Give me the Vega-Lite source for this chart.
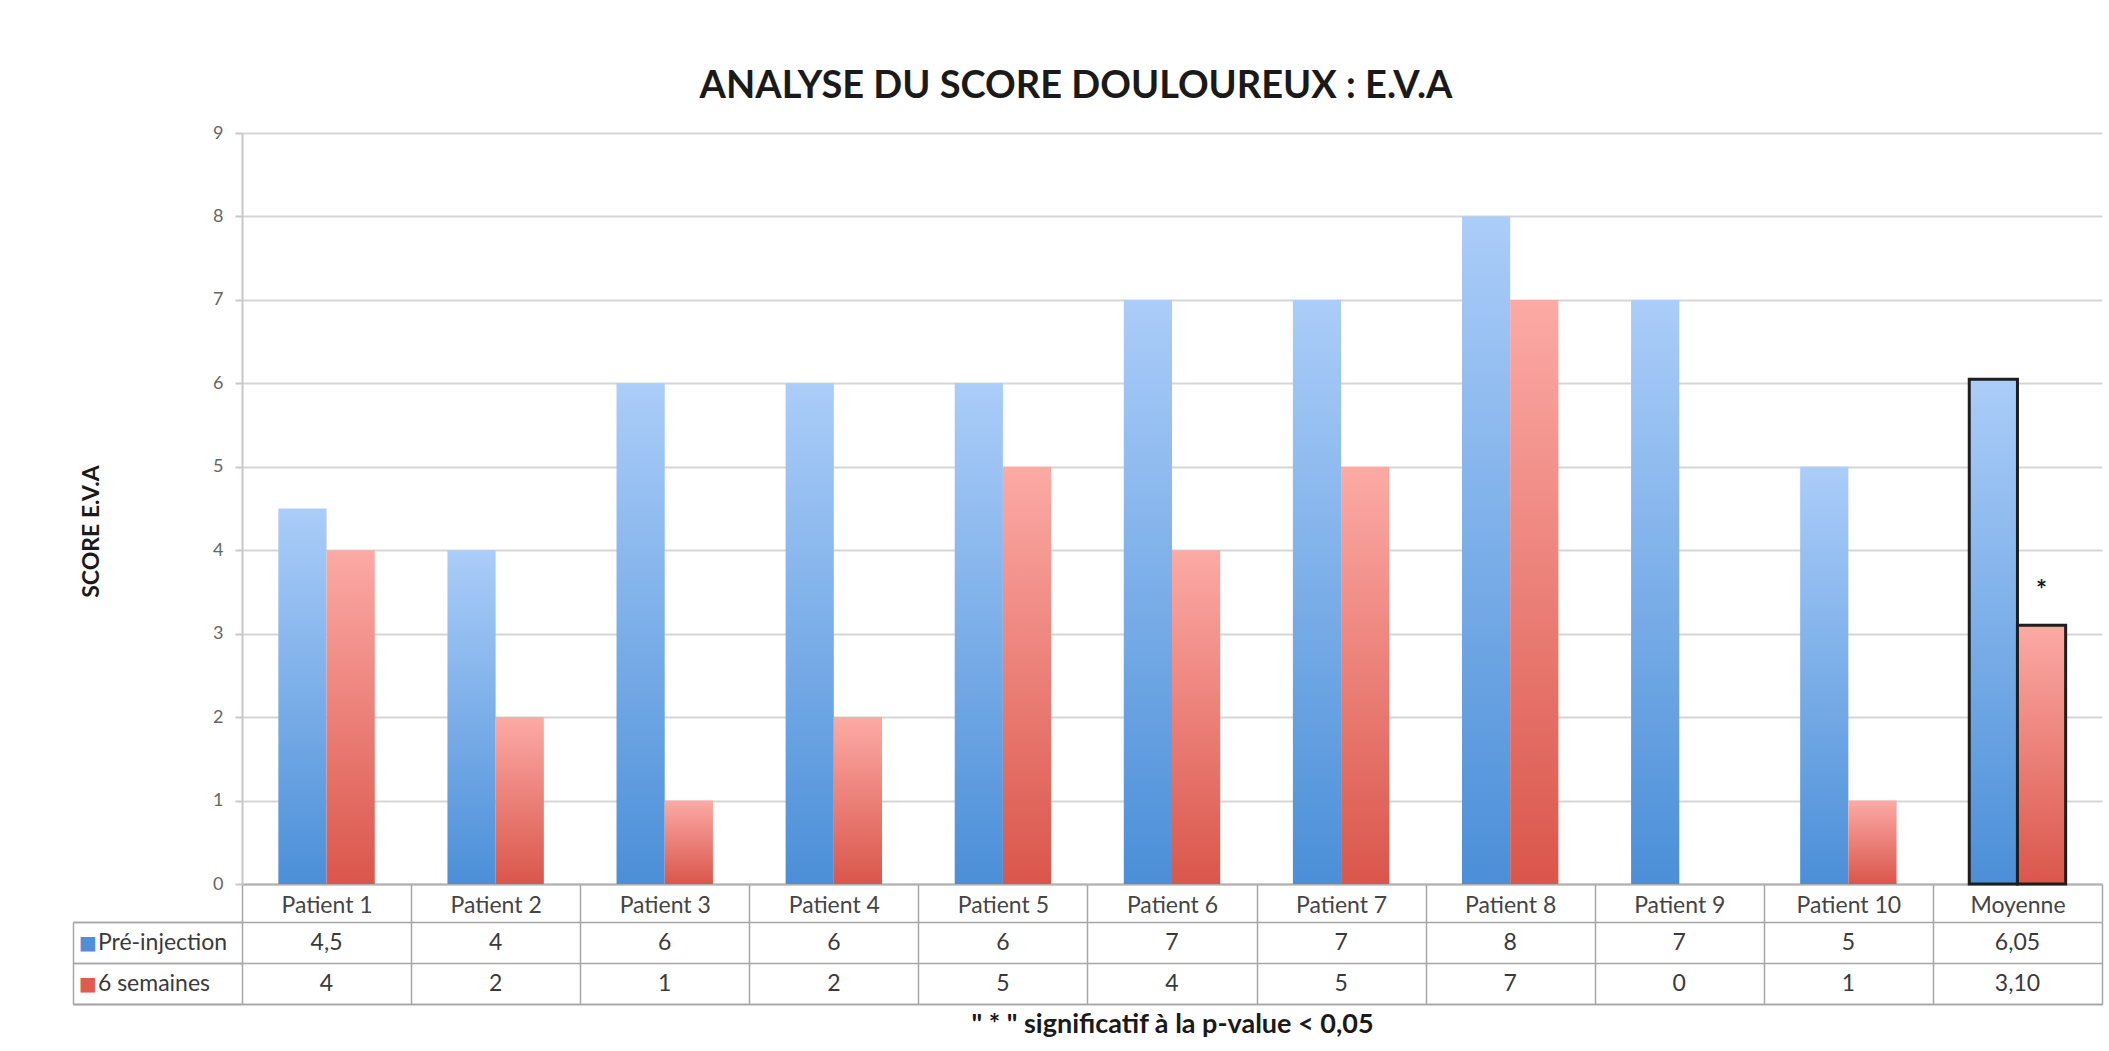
{
  "$schema": "https://vega.github.io/schema/vega-lite/v6.json",
  "width": 1860,
  "height": 871,
  "autosize": {"type": "none"},
  "padding": {"left": 242, "top": 133, "right": 7, "bottom": 47},
  "background": "white",
  "config": {"view": {"stroke": null}, "font": "Lato"},
  "title": {
    "text": "ANALYSE DU SCORE DOULOUREUX : E.V.A",
    "font": "Lato",
    "fontSize": 38,
    "fontWeight": "bold",
    "color": "#1a1a1a",
    "anchor": "middle",
    "frame": "group",
    "baseline": "alphabetic",
    "dx": -96,
    "offset": -12
  },
  "datasets": {
    "scores": [
      {"category": "Patient 1", "series": "Pré-injection", "value": 4.5, "display": "4,5"},
      {"category": "Patient 1", "series": "6 semaines", "value": 4, "display": "4"},
      {"category": "Patient 2", "series": "Pré-injection", "value": 4, "display": "4"},
      {"category": "Patient 2", "series": "6 semaines", "value": 2, "display": "2"},
      {"category": "Patient 3", "series": "Pré-injection", "value": 6, "display": "6"},
      {"category": "Patient 3", "series": "6 semaines", "value": 1, "display": "1"},
      {"category": "Patient 4", "series": "Pré-injection", "value": 6, "display": "6"},
      {"category": "Patient 4", "series": "6 semaines", "value": 2, "display": "2"},
      {"category": "Patient 5", "series": "Pré-injection", "value": 6, "display": "6"},
      {"category": "Patient 5", "series": "6 semaines", "value": 5, "display": "5"},
      {"category": "Patient 6", "series": "Pré-injection", "value": 7, "display": "7"},
      {"category": "Patient 6", "series": "6 semaines", "value": 4, "display": "4"},
      {"category": "Patient 7", "series": "Pré-injection", "value": 7, "display": "7"},
      {"category": "Patient 7", "series": "6 semaines", "value": 5, "display": "5"},
      {"category": "Patient 8", "series": "Pré-injection", "value": 8, "display": "8"},
      {"category": "Patient 8", "series": "6 semaines", "value": 7, "display": "7"},
      {"category": "Patient 9", "series": "Pré-injection", "value": 7, "display": "7"},
      {"category": "Patient 9", "series": "6 semaines", "value": 0, "display": "0"},
      {"category": "Patient 10", "series": "Pré-injection", "value": 5, "display": "5"},
      {"category": "Patient 10", "series": "6 semaines", "value": 1, "display": "1"},
      {"category": "Moyenne", "series": "Pré-injection", "value": 6.05, "display": "6,05"},
      {"category": "Moyenne", "series": "6 semaines", "value": 3.10, "display": "3,10", "note": "*"}
    ],
    "rows": [
      {"category": "header", "series": "Pré-injection"},
      {"category": "header", "series": "6 semaines"}
    ]
  },
  "layer": [
    {
      "data": {"name": "scores"},
      "encoding": {
        "x": {
          "field": "category",
          "type": "nominal",
          "sort": null,
          "scale": {"paddingInner": 0, "paddingOuter": 0},
          "axis": {
            "orient": "bottom",
            "offset": -120,
            "tickBand": "extent",
            "ticks": true,
            "tickSize": 38,
            "tickColor": "#a6a6a6",
            "tickWidth": 1.5,
            "domain": true,
            "domainColor": "#b0b0b0",
            "domainWidth": 2,
            "grid": false,
            "labelAngle": 0,
            "labelFontSize": 23,
            "labelColor": "#454545",
            "labelPadding": -17,
            "labelBaseline": "middle",
            "labelOverlap": false,
            "labelLimit": 400,
            "title": "\" * \" significatif à la p-value < 0,05",
            "titleFontSize": 27,
            "titleFontWeight": "bold",
            "titleColor": "#1a1a1a",
            "titlePadding": 89
          }
        },
        "xOffset": {
          "field": "series",
          "type": "nominal",
          "scale": {"domain": ["Pré-injection", "6 semaines"], "paddingInner": 0, "paddingOuter": 0.754}
        },
        "y": {
          "field": "value",
          "type": "quantitative",
          "scale": {"domain": [0, 9], "range": [751, 0], "nice": false, "zero": true},
          "axis": {
            "orient": "left",
            "values": [0, 1, 2, 3, 4, 5, 6, 7, 8, 9],
            "grid": true,
            "gridColor": "#d6d6d6",
            "gridWidth": 2,
            "domain": true,
            "domainColor": "#c8c8c8",
            "domainWidth": 2,
            "ticks": true,
            "tickSize": 7,
            "tickColor": "#c8c8c8",
            "tickWidth": 2,
            "labelFontSize": 18,
            "labelColor": "#666666",
            "labelPadding": 12,
            "title": "SCORE E.V.A",
            "titleFontSize": 23,
            "titleFontWeight": "bold",
            "titleColor": "#1a1a1a",
            "titlePadding": 109,
            "titleY": 398
          }
        }
      },
      "layer": [
        {
          "transform": [{"filter": "datum.series === 'Pré-injection'"}],
          "mark": {
            "type": "bar",
            "strokeWidth": 3,
            "fill": {
              "gradient": "linear", "x1": 0, "y1": 0, "x2": 0, "y2": 1,
              "stops": [{"offset": 0, "color": "#abcdf9"}, {"offset": 1, "color": "#4b8fd8"}]
            }
          },
          "encoding": {
            "stroke": {"condition": {"test": "datum.category === 'Moyenne'", "value": "#1e1e1e"}, "value": "transparent"}
          }
        },
        {
          "transform": [{"filter": "datum.series === '6 semaines'"}],
          "mark": {
            "type": "bar",
            "strokeWidth": 3,
            "fill": {
              "gradient": "linear", "x1": 0, "y1": 0, "x2": 0, "y2": 1,
              "stops": [{"offset": 0, "color": "#fcaaa5"}, {"offset": 1, "color": "#da564b"}]
            }
          },
          "encoding": {
            "stroke": {"condition": {"test": "datum.category === 'Moyenne'", "value": "#1e1e1e"}, "value": "transparent"}
          }
        },
        {
          "transform": [{"filter": "datum.note"}],
          "mark": {"type": "text", "fontSize": 26, "fontWeight": "bold", "color": "#1a1a1a", "baseline": "alphabetic", "dy": -26},
          "encoding": {"text": {"field": "note"}}
        }
      ]
    },
    {
      "encoding": {
        "x": {
          "field": "category",
          "type": "nominal",
          "scale": {
            "domain": ["header", "Patient 1", "Patient 2", "Patient 3", "Patient 4", "Patient 5", "Patient 6", "Patient 7", "Patient 8", "Patient 9", "Patient 10", "Moyenne"],
            "range": [-169.09, 1860],
            "paddingInner": 0,
            "paddingOuter": 0
          },
          "axis": {
            "orient": "top",
            "offset": -871,
            "tickBand": "extent",
            "ticks": true,
            "tickSize": 82,
            "tickColor": "#a6a6a6",
            "tickWidth": 1.5,
            "domain": true,
            "domainColor": "#a6a6a6",
            "domainWidth": 1.5,
            "labels": false,
            "grid": false,
            "title": null
          }
        },
        "y": {
          "field": "series",
          "type": "nominal",
          "scale": {"domain": ["Pré-injection", "6 semaines"], "range": [789, 871], "paddingInner": 0, "paddingOuter": 0},
          "axis": {
            "orient": "left",
            "tickBand": "extent",
            "grid": true,
            "gridColor": "#a6a6a6",
            "gridWidth": 1.5,
            "ticks": true,
            "tickSize": 169,
            "tickColor": "#a6a6a6",
            "tickWidth": 1.5,
            "domain": false,
            "labels": false,
            "title": null
          }
        }
      },
      "layer": [
        {
          "data": {"name": "scores"},
          "mark": {"type": "text", "fontSize": 23, "color": "#3a3a3a", "baseline": "middle"},
          "encoding": {"text": {"field": "display"}}
        },
        {
          "data": {"name": "rows"},
          "mark": {"type": "text", "fontSize": 23, "color": "#3a3a3a", "baseline": "middle", "align": "left", "dx": 25},
          "encoding": {
            "x": {"field": "category", "type": "nominal", "bandPosition": 0},
            "text": {"field": "series"}
          }
        },
        {
          "data": {"name": "rows"},
          "mark": {"type": "text", "font": "DejaVu Sans", "fontSize": 19, "baseline": "middle", "align": "left", "dx": 6},
          "encoding": {
            "x": {"field": "category", "type": "nominal", "bandPosition": 0},
            "text": {"value": "■"},
            "color": {"field": "series", "type": "nominal", "scale": {"domain": ["Pré-injection", "6 semaines"], "range": ["#4f8fd8", "#e05a4e"]}, "legend": null}
          }
        }
      ]
    }
  ],
  "resolve": {
    "scale": {"x": "independent", "y": "independent", "color": "independent"},
    "axis": {"x": "independent", "y": "independent"}
  }
}
